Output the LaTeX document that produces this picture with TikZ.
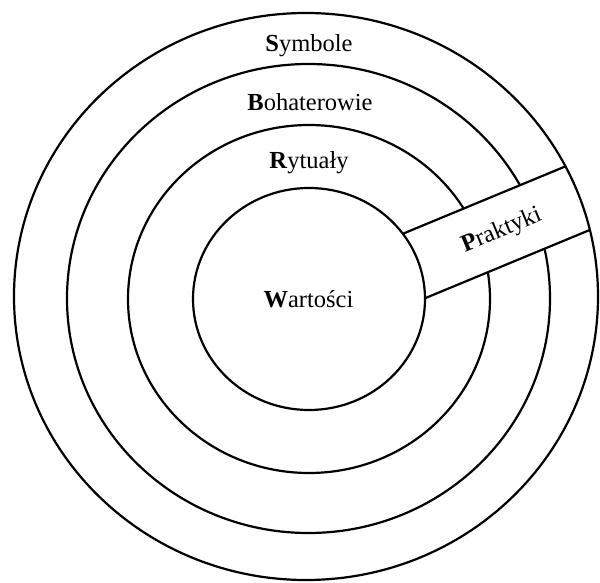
\documentclass[tikz,border=0pt]{standalone}
\usepackage{fontspec}
\setmainfont{Liberation Serif}
\begin{document}
\begin{tikzpicture}[x=1pt, y=-1pt,
  ring/.style={line width=2.2pt, black},
  label/.style={font=\fontsize{24.5}{27}\selectfont, inner sep=0pt}]
\useasboundingbox (0,0) rectangle (600,583);
\fill[white] (0,0) rectangle (600,583);

% centres of the rings
\coordinate (cOut) at (306,296.5);
\coordinate (cBoh) at (308.5,298.5);
\coordinate (cRyt) at (309,299);
\coordinate (cWar) at (309,299);

% corners of the tilted band
\coordinate (bUa) at (299.2,276.7);
\coordinate (bUb) at (622.6,142.7);
\coordinate (bLa) at (325.2,339.6);
\coordinate (bLb) at (648.6,205.6);

% middle rings
\draw[ring] (cBoh) ellipse [x radius=241.5pt, y radius=234.5pt];
\draw[ring] (cRyt) ellipse [x radius=181pt, y radius=174pt];

% the band cuts through the middle rings
\fill[white] (bUa) -- (bUb) -- (bLb) -- (bLa) -- cycle;
\begin{scope}
  \clip (cOut) ellipse [x radius=292pt, y radius=283.5pt];
  \draw[ring] (bUa) -- (bUb);
  \draw[ring] (bLa) -- (bLb);
\end{scope}

% outer and inner rings
\draw[ring] (cOut) ellipse [x radius=292pt, y radius=283.5pt];
\draw[ring, fill=white] (cWar) ellipse [x radius=116pt, y radius=111pt];

% labels
\node[label, anchor=base] (sym) at (309,52) {\textbf{S}ymbole};
\node[label, anchor=base] (boh) at (310,110.5) {\textbf{B}ohaterowie};
\node[label, anchor=base] (ryt) at (309,169) {\textbf{R}ytuały};
\node[label, anchor=base] (war) at (308.5,307) {\textbf{W}artości};
\node[label, anchor=base, rotate=22.5] (pra) at (504,236) {\textbf{P}raktyki};
\end{tikzpicture}
\end{document}
